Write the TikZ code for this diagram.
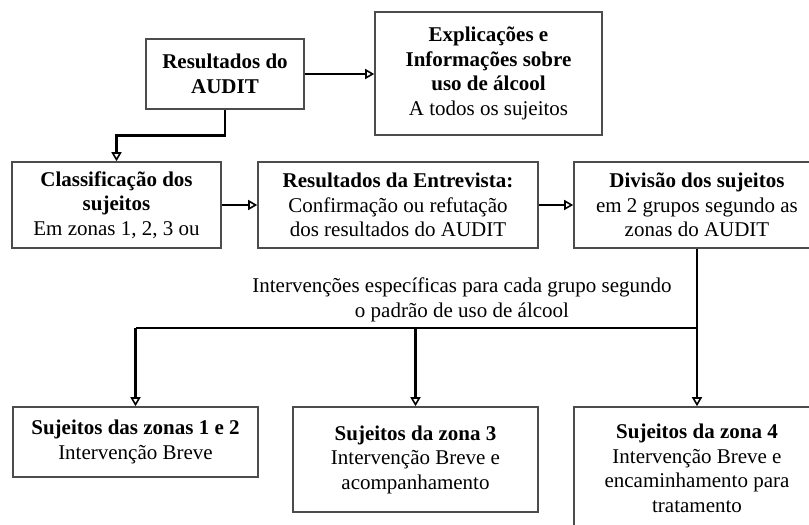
\documentclass[tikz,border=0pt]{standalone}
\usepackage{fontspec}
\setmainfont{Liberation Serif}
\usetikzlibrary{arrows.meta, positioning}

\begin{document}
\begin{tikzpicture}[x=1pt, y=-1pt,
  every node/.style={font=\fontsize{21}{24.5}\selectfont, align=center},
  box/.style={draw=black!70, line width=1.6pt, inner sep=0pt},
  link/.style={line width=2.8pt, black},
  conn/.style={link, -{Triangle[open, length=9pt, width=10pt, line width=1.6pt]}}]
  \clip (0,0) rectangle (809,525);
  % top row
  \node[box, minimum width=158pt, minimum height=70pt] (res) at (225,74)
    {\textbf{Resultados do}\\\textbf{AUDIT}};
  \node[box, minimum width=227pt, minimum height=123pt] (expl) at (488.5,73.5)
    {\textbf{Explicações e}\\\textbf{Informações sobre}\\\textbf{uso de álcool}\\A todos os sujeitos};
  % middle row
  \node[box, minimum width=209pt, minimum height=86pt] (clas) at (116.5,205)
    {\textbf{Classificação dos}\\\textbf{sujeitos}\\Em zonas 1, 2, 3 ou};
  \node[box, minimum width=280pt, minimum height=86pt] (entr) at (398,205)
    {\textbf{Resultados da Entrevista:}\\Confirmação ou refutação\\dos resultados do AUDIT};
  \node[box, minimum width=246pt, minimum height=86pt] (div) at (697,205)
    {\textbf{Divisão dos sujeitos}\\em 2 grupos segundo as\\zonas do AUDIT};
  \node (intv) at (462,300)
    {Intervenções específicas para cada grupo segundo\\o padrão de uso de álcool};
  % bottom row
  \node[box, minimum width=245pt, minimum height=70pt] (za) at (135.5,442)
    {\textbf{Sujeitos das zonas 1 e 2}\\Intervenção Breve};
  \node[box, minimum width=245pt, minimum height=105pt] (zb) at (415.5,459.5)
    {\textbf{Sujeitos da zona 3}\\Intervenção Breve e\\acompanhamento};
  \node[box, minimum width=246pt, minimum height=123pt] (zc) at (697,468.5)
    {\textbf{Sujeitos da zona 4}\\Intervenção Breve e\\encaminhamento para\\tratamento};
  % connectors
  \draw[conn] (res.east) -- (res.east -| expl.west);
  \draw[conn] (res.south) -- ++(0,26) -| (clas.north);
  \draw[conn] (clas) -- (entr);
  \draw[conn] (entr) -- (div);
  \coordinate (split) at (697,328);
  \draw[link] (div.south) -- (split) -- (split -| za.north);
  \foreach \b in {za, zb, zc}
    \draw[conn] (split -| \b.north) -- (\b.north);
\end{tikzpicture}
\end{document}
